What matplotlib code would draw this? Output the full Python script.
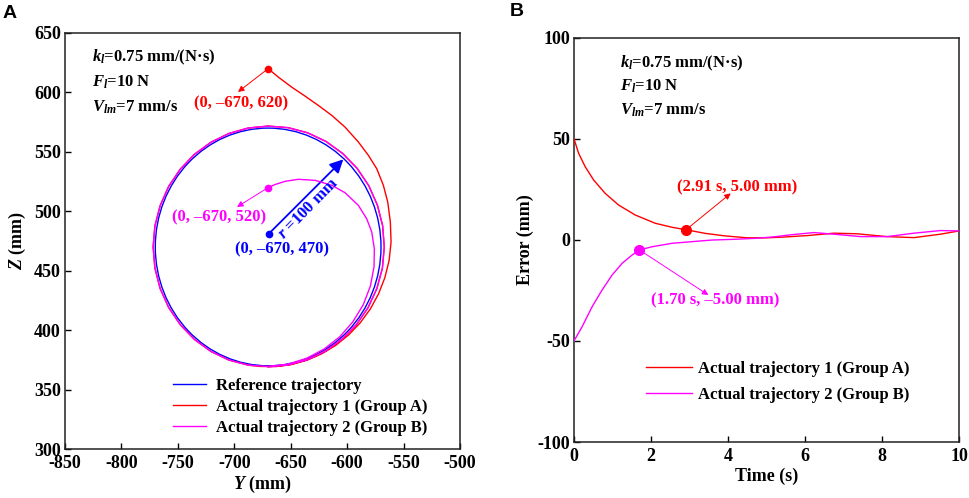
import numpy as np
import matplotlib
matplotlib.use("Agg")
import matplotlib.pyplot as plt
from matplotlib.patches import Circle
from matplotlib.lines import Line2D

plt.rcParams['font.family'] = ['Liberation Serif', 'DejaVu Serif']
plt.rcParams['font.weight'] = 'bold'
plt.rcParams['axes.labelweight'] = 'bold'
plt.rcParams['mathtext.fontset'] = 'custom'
plt.rcParams['mathtext.it'] = 'Liberation Serif:italic:bold'
plt.rcParams['mathtext.rm'] = 'Liberation Serif:bold'
plt.rcParams['mathtext.bf'] = 'Liberation Serif:bold'
plt.rcParams['axes.unicode_minus'] = False

# ---------------- data: panel A (polar about the circle centre) ----------------
ref_center = (-670, 470)
ref_radius = 100
# red trajectory, head part (angle clockwise from +Z, deg ; radius mm)
red_theta_head = [0, 3.6, 8.8, 14.4, 20.5, 27, 34, 42.2, 49, 55.6, 63.1, 70.4, 79, 87.8,
                  96, 104, 112, 120, 128, 136, 144, 152, 160, 168, 176, 184]
red_r_head = [150, 143.2, 136.1, 131.1, 127.1, 124.2, 121.7, 119.1, 117.6, 116.6, 114.5,
              112.5, 110.3, 109.0, 107.8, 106.6, 105.5, 104.5, 103.6, 102.8, 102.2, 101.7,
              101.3, 101.1, 100.9, 100.8]
# magenta trajectory, head part
mag_theta_head = [0, 7, 15.2, 25.2, 36.6, 47.4, 56.2, 66.35, 74.8, 82.2, 90.9, 100, 110,
                  120, 130, 140, 150, 160, 170, 180]
mag_r_head = [50, 53, 57.2, 62.9, 69.8, 76.6, 82, 87.25, 90.5, 92.65, 94.1, 95.3, 96.4,
              97.3, 98, 98.7, 99.2, 99.7, 100.2, 100.6]
# common last lap (both trajectories overlap here)
lap_theta = [190, 200, 210, 220, 230, 240, 250, 260, 270, 280, 290, 300, 310, 320, 330,
             340, 350, 360, 370, 380, 390, 400, 410, 420, 430, 440, 450, 460, 470, 480,
             490, 500, 510, 520, 530, 540]
lap_r = [101.0, 101.3, 101.5, 101.6, 101.7, 101.8, 101.9, 101.9, 101.9, 101.9, 101.8,
         101.8, 101.7, 101.7, 101.6, 101.6, 101.6, 101.7, 101.9, 102.2, 102.5, 102.7,
         102.9, 103.0, 103.0, 103.0, 102.9, 102.8, 102.5, 102.2, 101.9, 101.5, 101.3,
         101.1, 100.9, 100.8]

red_start = (-670, 620)
mag_start = (-670, 520)
blue_dot = (-669.5, 481)

# ---------------- data: panel B ----------------
t_red = [0, 0.12, 0.29, 0.51, 0.81, 1.16, 1.59, 2.11, 2.55, 2.91, 3.41, 3.9, 4.5, 5.0,
         5.37, 6.05, 6.75, 7.35, 8.13, 8.83, 9.52, 10]
e_red = [50, 42.8, 36.2, 29.6, 23.0, 17.2, 12.3, 8.2, 6.2, 5.0, 3.2, 2.0, 1.0, 1.0, 1.3,
         2.1, 3.3, 3.0, 1.6, 1.1, 2.8, 4.4]
t_mag = [0, 0.21, 0.47, 0.73, 0.99, 1.25, 1.51, 1.7, 2.03, 2.55, 3.06, 3.58, 4.2, 4.76,
         5.2, 5.63, 6.23, 6.75, 7.45, 8.13, 8.83, 9.52, 10]
e_mag = [-50, -43, -33.1, -24.8, -17.4, -11.6, -7.5, -5.0, -3.4, -1.7, -0.9, -0.1, 0.3,
         0.8, 1.5, 2.5, 3.6, 2.8, 1.6, 1.6, 3.3, 4.6, 4.4]
red_pt = (2.91, 5.00)
mag_pt = (1.70, -5.00)


def polar_to_yz(theta, r):
    th = np.radians(np.asarray(theta, float))
    r = np.asarray(r, float)
    return ref_center[0] + r * np.sin(th), ref_center[1] + r * np.cos(th)


W, H = 969, 498
fig = plt.figure(figsize=(W / 100, H / 100), dpi=100)


def fx(x):
    return x / W


def fy(y):
    return 1 - y / H


RED, MAG, BLUE = '#ff0000', '#ff00ff', '#0000ff'
FS = 12
TFS = 13
LW = 1.0

# ---------------- panel A ----------------
axA = fig.add_axes([65 / W, 1 - 449 / H, 395 / W, 416 / H])
axA.add_patch(Circle(ref_center, ref_radius, fill=False, ec=BLUE, lw=LW, zorder=2))
ry, rz = polar_to_yz(red_theta_head + lap_theta, red_r_head + lap_r)
axA.plot(ry, rz, color=RED, lw=LW, zorder=3)
my, mz = polar_to_yz(mag_theta_head + lap_theta, mag_r_head + lap_r)
axA.plot(my, mz, color=MAG, lw=LW, zorder=4)

axA.plot(*red_start, 'o', color=RED, ms=4.5, zorder=5)
axA.plot(*mag_start, 'o', color=MAG, ms=4.5, zorder=5)
axA.plot(*blue_dot, 'o', color=BLUE, ms=4.5, zorder=5)

axA.annotate('', xy=(-696.7, 600.4), xytext=red_start,
             arrowprops=dict(arrowstyle='-|>', color=RED, lw=0.7, mutation_scale=9,
                             shrinkA=0, shrinkB=0))
axA.annotate('', xy=(-697.6, 503.6), xytext=mag_start,
             arrowprops=dict(arrowstyle='-|>', color=MAG, lw=0.7, mutation_scale=9,
                             shrinkA=0, shrinkB=0))
axA.annotate('', xy=(-603.4, 543.7), xytext=blue_dot,
             arrowprops=dict(arrowstyle='-|>', color=BLUE, lw=1.3, mutation_scale=20,
                             shrinkA=0, shrinkB=0))

fig.text(fx(241), fy(103), '(0, –670, 620)', color=RED, fontsize=FS, ha='center', va='center')
fig.text(fx(219), fy(217), '(0, –670, 520)', color=MAG, fontsize=FS, ha='center', va='center')
fig.text(fx(282), fy(249), '(0, –670, 470)', color=BLUE, fontsize=FS, ha='center', va='center')
fig.text(fx(308), fy(209), r'$r$ =100 mm', color=BLUE, fontsize=FS, ha='center', va='center',
         rotation=45.5, rotation_mode='anchor')

for i, s in enumerate([r'$k_l$=0.75 mm/(N·s)', r'$F_l$=10 N', r'$V_{lm}$=7 mm/s']):
    fig.text(fx(92), fy(57 + 25 * i), s, fontsize=FS, ha='left', va='center')

axA.set_xlim(-850, -500)
axA.set_ylim(300, 650)
axA.set_xticks([-850, -800, -750, -700, -650, -600, -550, -500])
axA.set_yticks([300, 350, 400, 450, 500, 550, 600, 650])
axA.set_xlabel(r'$Y$ (mm)', fontsize=TFS, labelpad=2)
axA.set_ylabel(r'$Z$ (mm)', fontsize=TFS, labelpad=4)

handlesA = [Line2D([], [], color=BLUE, lw=LW), Line2D([], [], color=RED, lw=LW),
            Line2D([], [], color=MAG, lw=LW)]
axA.legend(handlesA, ['Reference trajectory', 'Actual trajectory 1 (Group A)',
                      'Actual trajectory 2 (Group B)'],
           loc='upper left', bbox_to_anchor=(fx(173), fy(378)), bbox_transform=fig.transFigure,
           frameon=False, fontsize=FS, handlelength=2.0, handletextpad=0.55,
           labelspacing=0.3, borderpad=0, borderaxespad=0)

# ---------------- panel B ----------------
axB = fig.add_axes([574 / W, 1 - 442 / H, 385 / W, 404.3 / H])
axB.plot(t_red, e_red, color=RED, lw=LW, label='Actual trajectory 1 (Group A)', zorder=3)
axB.plot(t_mag, e_mag, color=MAG, lw=LW, label='Actual trajectory 2 (Group B)', zorder=4)
axB.plot(*red_pt, 'o', color=RED, ms=7, zorder=5)
axB.plot(*mag_pt, 'o', color=MAG, ms=7, zorder=5)
axB.annotate('', xy=(4.07, 23.0), xytext=red_pt,
             arrowprops=dict(arrowstyle='-|>', color=RED, lw=0.7, mutation_scale=9,
                             shrinkA=0, shrinkB=0))
axB.annotate('', xy=(3.49, -27.3), xytext=mag_pt,
             arrowprops=dict(arrowstyle='-|>', color=MAG, lw=0.7, mutation_scale=9,
                             shrinkA=0, shrinkB=0))
fig.text(fx(737), fy(187), '(2.91 s, 5.00 mm)', color=RED, fontsize=FS, ha='center', va='center')
fig.text(fx(715), fy(300.7), '(1.70 s, –5.00 mm)', color=MAG, fontsize=FS, ha='center', va='center')
for i, s in enumerate([r'$k_l$=0.75 mm/(N·s)', r'$F_l$=10 N', r'$V_{lm}$=7 mm/s']):
    fig.text(fx(620), fy(63 + 23.5 * i), s, fontsize=FS, ha='left', va='center')

axB.set_xlim(0, 10)
axB.set_ylim(-100, 100)
axB.set_xticks([0, 2, 4, 6, 8, 10])
axB.set_yticks([-100, -50, 0, 50, 100])
axB.set_xlabel('Time (s)', fontsize=TFS, labelpad=2)
axB.set_ylabel('Error (mm)', fontsize=TFS, labelpad=2)
axB.legend(loc='upper left', bbox_to_anchor=(fx(645.7), fy(361)), bbox_transform=fig.transFigure,
           frameon=False, fontsize=FS, handlelength=2.8, handletextpad=0.35,
           labelspacing=0.6, borderpad=0, borderaxespad=0)

for ax in (axA, axB):
    ax.tick_params(direction='in', length=4, width=1, labelsize=TFS, pad=3)
    ax.tick_params(axis='x', pad=4)
    for sp in ax.spines.values():
        sp.set_linewidth(1.1)
        sp.set_color('#222222')
    for lab in ax.get_xticklabels() + ax.get_yticklabels():
        lab.set_fontweight('bold')

fig.text(fx(3), fy(14), 'A', fontsize=14, fontweight='bold', family='Liberation Sans',
         ha='left', va='center')
fig.text(fx(510), fy(12), 'B', fontsize=14, fontweight='bold', family='Liberation Sans',
         ha='left', va='center')

fig.savefig('out.png', dpi=100)
